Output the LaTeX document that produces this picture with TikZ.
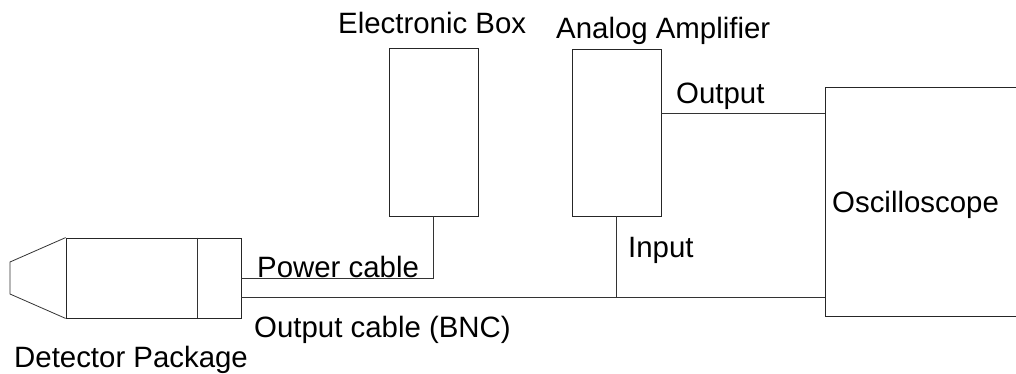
\documentclass[tikz,border=0pt]{standalone}
\usepackage{fontspec}
\setmainfont{Liberation Sans}
\usepackage{tikz}
\usetikzlibrary{calc,positioning}

\tikzset{
    unit/.style={draw=black!85,line width=0.8pt,rectangle,inner sep=0pt},
    lbl/.style={anchor=base west,inner sep=0pt,font=\fontsize{29.4}{35}\selectfont},
    wire/.style={draw=black!80,line width=0.8pt}
}

\begin{document}
\begin{tikzpicture}[x=1pt,y=-1pt]
    \useasboundingbox (0,0) rectangle (1016,373);
    \clip (0,0) rectangle (1016,373);
    \pgfmathsetmacro{\cable}{19}

    % detector package
    \node[unit,minimum width=175pt,minimum height=80pt] (det) at (153.5,278) {};
    \draw[wire] ($(det.north east)+(-44,0)$) -- ($(det.south east)+(-44,0)$);
    \draw[wire] (det.north west) -- (10,262) -- (10,294) -- (det.south west);
    \node[lbl] (detlbl) at (14,367) {Detector Package};

    % boxes
    \node[unit,minimum width=89pt,minimum height=168pt] (elec) at (433.5,132) {};
    \node[lbl] (eleclbl) at (338,33) {Electronic Box};
    \node[unit,minimum width=89pt,minimum height=167pt] (amp) at (616.5,132.5) {};
    \node[lbl] (amplbl) at (556,38) {Analog Amplifier};
    \node[unit,minimum width=215pt,minimum height=229pt] (scope) at (932.5,201.5) {};
    \node[lbl] (scopelbl) at (832,212) {Oscilloscope};

    % cables
    \draw[wire] (det.east) -| (elec.south);
    \draw[wire] ([yshift=-\cable pt]det.east) coordinate (bnc) -- (bnc -| scope.west);
    \draw[wire] (amp.south) -- (amp.south |- bnc);
    \draw[wire] ([yshift=\cable pt]amp.east) coordinate (out) -- (out -| scope.west);

    \node[lbl] (powlbl) at (257,277) {Power cable};
    \node[lbl] (bnclbl) at (254,337) {Output cable (BNC)};
    \node[lbl] (inlbl) at (628,257) {Input};
    \node[lbl] (outlbl) at (676,103) {Output};
\end{tikzpicture}
\end{document}
